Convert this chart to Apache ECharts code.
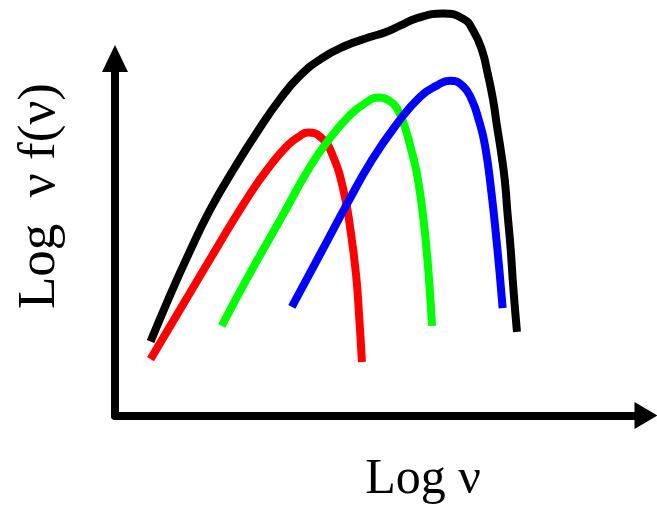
<!DOCTYPE html>
<html>
<head>
<meta charset="utf-8">
<script src="https://cdn.jsdelivr.net/npm/echarts@6/dist/echarts.min.js"></script>
<style>
html,body{margin:0;padding:0;background:#fff;}
#chart{width:657px;height:509px;}
</style>
</head>
<body>
<div id="chart"></div>
<script>
// Schematic spectra: [log nu, log nu f(nu)] in arbitrary units (axes 0..10)
const blackCurve = [
  [0.67,2.07],[1.00,3.24],[1.37,4.47],[1.79,5.76],[2.26,6.96],[2.69,7.97],
  [3.11,8.87],[3.48,9.51],[3.90,10.01],[4.33,10.35],[4.80,10.60],[5.08,10.73],
  [5.37,10.92],[5.69,11.13],[6.18,11.26],[6.56,11.11],[6.75,10.77],
  [6.91,10.24],[7.02,9.57],[7.12,8.84],[7.19,8.14],[7.27,7.38],[7.34,6.60],
  [7.39,5.70],[7.45,4.69],[7.50,3.60],[7.57,2.34]
];
const redCurve = [
  [0.67,1.58],[1.69,4.13],[2.54,6.20],[2.96,7.07],[3.26,7.58],[3.45,7.80],
  [3.63,7.93],[3.88,7.79],[4.09,7.32],[4.31,6.26],[4.44,5.14],[4.54,3.94],
  [4.60,2.73],[4.65,1.50]
];
const greenCurve = [
  [2.01,2.51],[2.54,3.98],[3.11,5.48],[3.67,6.96],[4.05,7.77],[4.39,8.36],
  [4.69,8.73],[4.99,8.91],[5.16,8.82],[5.31,8.60],[5.44,8.17],[5.57,7.49],
  [5.69,6.74],[5.81,5.48],[5.90,4.08],[5.97,2.51]
];
const blueCurve = [
  [3.33,3.04],[3.86,4.51],[4.36,5.90],[4.84,7.16],[5.31,8.17],[5.74,8.92],
  [6.06,9.24],[6.31,9.38],[6.55,9.23],[6.72,8.84],[6.85,8.28],[6.97,7.55],
  [7.09,6.23],[7.19,4.83],[7.25,3.88],[7.30,3.01]
];
const xLabel = 'Log ν';
const yLabel = 'Log  ν f(ν)';

const chart = echarts.init(document.getElementById('chart'), null, {renderer:'canvas'});
function curve(data, color){
  return {
    type:'line', data:data, smooth:0.5, showSymbol:false, clip:false,
    lineStyle:{color:color, width:8, cap:'butt', join:'round'}, itemStyle:{color:color},
    silent:true, animation:false
  };
}
const axisCommon = {
  type:'value', min:0, max:10,
  splitLine:{show:false}, axisTick:{show:false}, axisLabel:{show:false}
};
chart.setOption({
  animation:false,
  backgroundColor:'#fff',
  grid:{left:115, right:11, top:58.5, bottom:93.5, containLabel:false, outerBoundsMode:'none'},
  xAxis:Object.assign({}, axisCommon, {
    axisLine:{show:true, onZero:false, symbol:['none','triangle'], symbolSize:[27,23],
      lineStyle:{color:'#000', width:8}}
  }),
  yAxis:Object.assign({}, axisCommon, {
    axisLine:{show:true, onZero:false, symbol:['none','triangle'], symbolSize:[26,27],
      lineStyle:{color:'#000', width:8}}
  }),
  graphic:[
    {type:'text', x:423, y:480, style:{text:xLabel, font:'50px "Liberation Serif", "Times New Roman", serif', fill:'#000', align:'center', verticalAlign:'middle'}},
    {type:'text', x:40, y:196, rotation:Math.PI/2, style:{text:yLabel, font:'53px "Liberation Serif", "Times New Roman", serif', fill:'#000', align:'center', verticalAlign:'middle'}}
  ],
  series:[
    curve(blackCurve,'#000000'),
    curve(redCurve,'#ff0000'),
    curve(greenCurve,'#00ff00'),
    curve(blueCurve,'#0000ff')
  ]
});
</script>
</body>
</html>
